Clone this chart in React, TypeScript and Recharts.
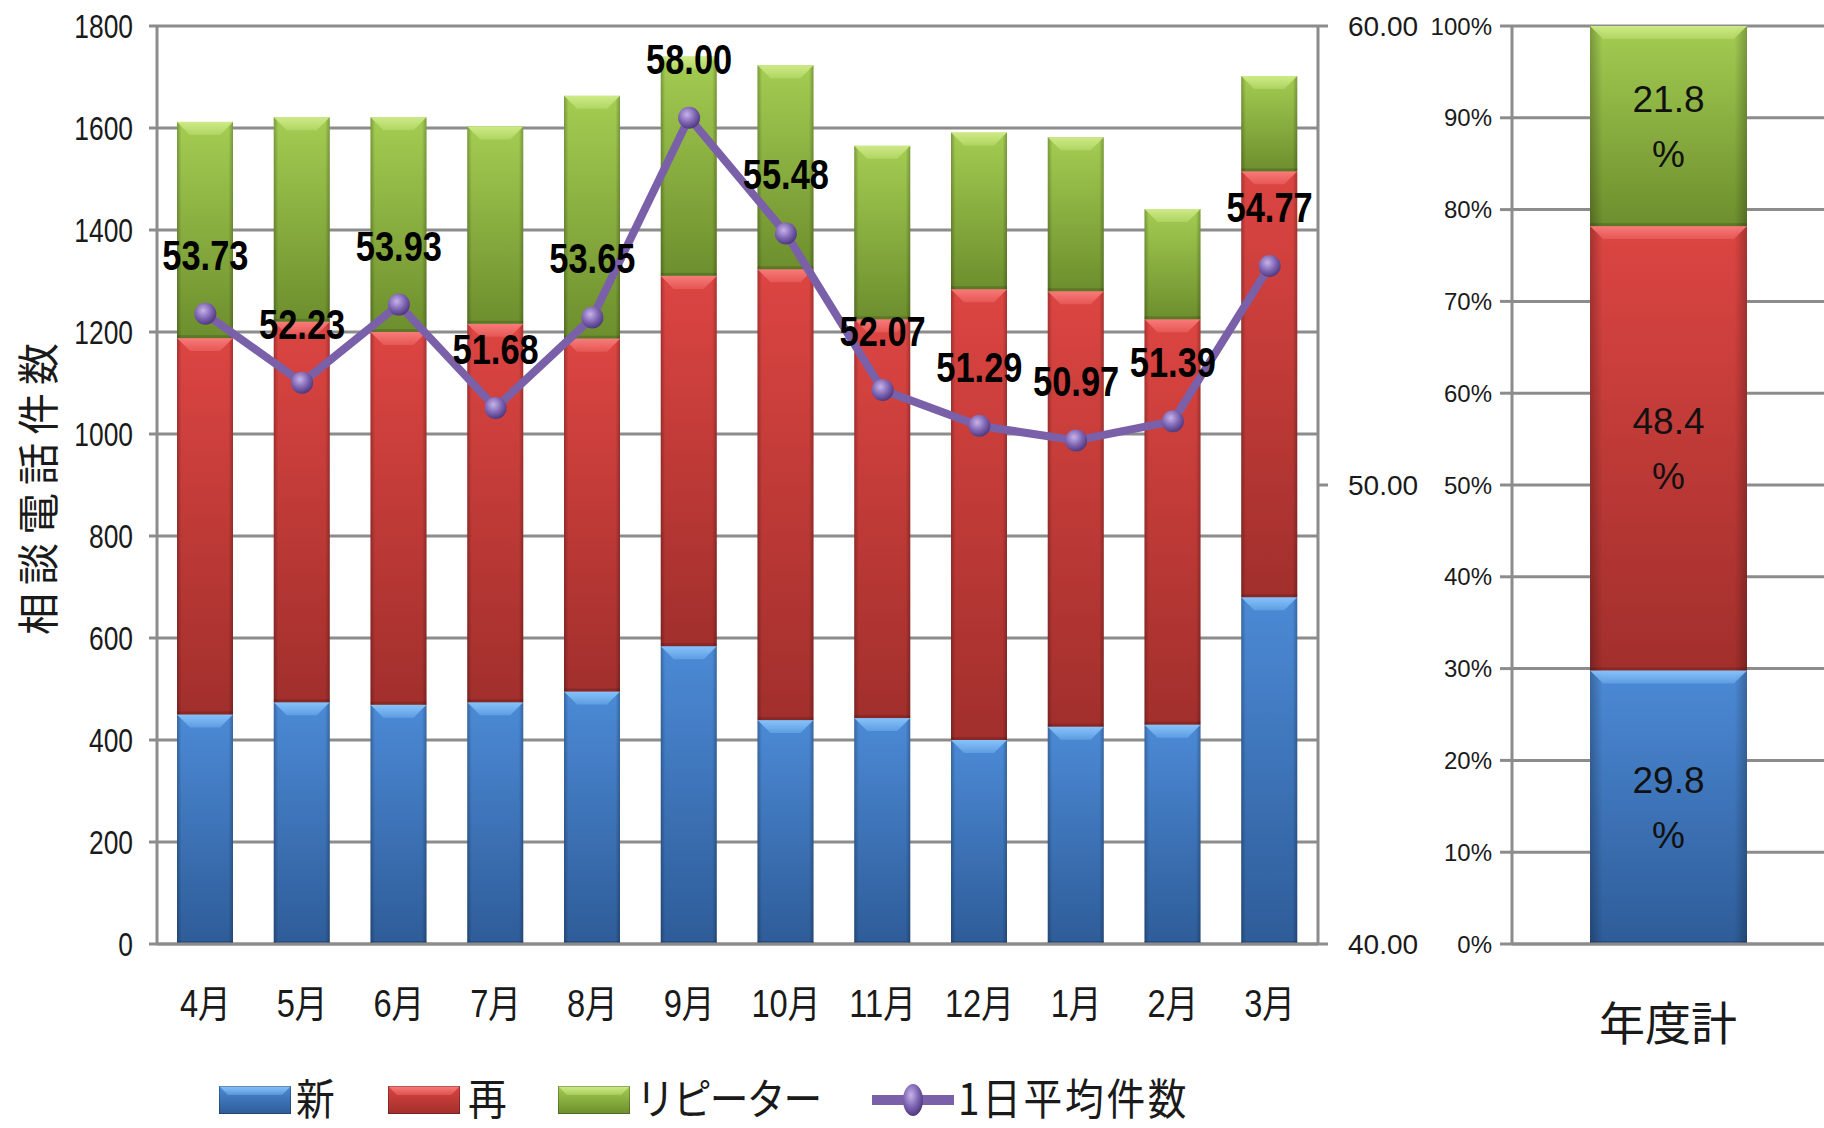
import React from 'react';
import { ComposedChart, Bar, Line, XAxis, YAxis, CartesianGrid, LabelList } from 'recharts';

const months = ['4月', '5月', '6月', '7月', '8月', '9月', '10月', '11月', '12月', '1月', '2月', '3月'];
const newCalls = [450, 474, 469, 474, 495, 584, 439, 443, 400, 426, 430, 680];
const againCalls = [738, 746, 731, 742, 692, 726, 884, 782, 884, 854, 795, 835];
const repeaterCalls = [424, 401, 421, 387, 476, 430, 400, 340, 307, 302, 216, 187];
const dailyAvg = [53.73, 52.23, 53.93, 51.68, 53.65, 58.0, 55.48, 52.07, 51.29, 50.97, 51.39, 54.77];
const leftTicks = [0, 200, 400, 600, 800, 1000, 1200, 1400, 1600, 1800];
const rightTicks = [40, 50, 60];
const annualCategory = ['年度計'];
const annualShares = [29.8, 48.4, 21.8];
const pctTicks = [0, 10, 20, 30, 40, 50, 60, 70, 80, 90, 100];
const seriesNames = ['新', '再', 'リピーター', '1日平均件数'];

const monthData = months.map((m, i) => ({
  month: m,
  new: newCalls[i],
  again: againCalls[i],
  repeater: repeaterCalls[i],
  avg: dailyAvg[i],
}));
const annualData = annualCategory.map((c) => ({
  name: c,
  new: annualShares[0],
  again: annualShares[1],
  repeater: annualShares[2],
}));

const GRID = '#8c8c8c';
const SANS = '"Liberation Sans", "Noto Sans CJK JP", sans-serif';
const CJK = '"Noto Sans CJK JP", "Liberation Sans", sans-serif';

const palette: Record<string, { top: string; bottom: string; bevel: string }> = {
  blue: { top: '#4c8ad6', bottom: '#2e5c98', bevel: '#86c3fb' },
  red: { top: '#dc4542', bottom: '#a12f2c', bevel: '#f87b79' },
  green: { top: '#a4cd52', bottom: '#6d8e2d', bevel: '#cdea86' },
};

const makeShape = (key: string) => (props: any) => {
  const { x, y, width, height } = props;
  if (!height || height <= 0) return <g />;
  const b = Math.min(13, height / 2);
  return (
    <g>
      <rect x={x} y={y} width={width} height={height} fill={`url(#g-${key})`} />
      <rect x={x} y={y} width={width} height={height} fill="url(#g-side)" />
      <polygon
        points={`${x},${y} ${x + width},${y} ${x + width - b},${y + b} ${x + b},${y + b}`}
        fill={`url(#g-bevel-${key})`}
      />
      <rect x={x} y={y + height - 3} width={width} height={3} fill="rgba(0,0,0,0.15)" />
    </g>
  );
};

const Defs = () => (
  <svg width={0} height={0} style={{ position: 'absolute' }}>
    <defs>
      {Object.keys(palette).map((k) => (
        <React.Fragment key={k}>
          <linearGradient id={`g-${k}`} x1="0" y1="0" x2="0" y2="1">
            <stop offset="0%" stopColor={palette[k].top} />
            <stop offset="100%" stopColor={palette[k].bottom} />
          </linearGradient>
          <linearGradient id={`g-bevel-${k}`} x1="0" y1="0" x2="0" y2="1">
            <stop offset="0%" stopColor={palette[k].bevel} stopOpacity={1} />
            <stop offset="100%" stopColor={palette[k].bevel} stopOpacity={0.35} />
          </linearGradient>
        </React.Fragment>
      ))}
      <linearGradient id="g-side" x1="0" y1="0" x2="1" y2="0">
        <stop offset="0%" stopColor="#000" stopOpacity={0.25} />
        <stop offset="8%" stopColor="#000" stopOpacity={0} />
        <stop offset="92%" stopColor="#000" stopOpacity={0} />
        <stop offset="100%" stopColor="#000" stopOpacity={0.25} />
      </linearGradient>
      <radialGradient id="g-dot" cx="0.4" cy="0.35" r="0.65">
        <stop offset="0%" stopColor="#c7b3ea" />
        <stop offset="60%" stopColor="#7c62b0" />
        <stop offset="100%" stopColor="#4f3a80" />
      </radialGradient>
    </defs>
  </svg>
);

const AvgDot = (props: any) => {
  const { cx, cy, index } = props;
  return <circle key={`dot-${index}`} cx={cx} cy={cy} r={11} fill="url(#g-dot)" />;
};

const AvgLabel = (props: any) => {
  const { x, y, value } = props;
  return (
    <text
      transform={`translate(${x} ${y - 44}) scale(0.8 1)`}
      textAnchor="middle"
      fontFamily={SANS}
      fontWeight="bold"
      fontSize={43}
      fill="#000"
    >
      {Number(value).toFixed(2)}
    </text>
  );
};

const LeftTick = (props: any) => {
  const { x, y, payload } = props;
  return (
    <text
      transform={`translate(${x} ${y}) scale(0.8 1)`}
      textAnchor="end"
      dominantBaseline="central"
      fontFamily={SANS}
      fontSize={33}
      fill="#1a1a1a"
    >
      {payload.value}
    </text>
  );
};

const MonthTick = (props: any) => {
  const { x, y, payload } = props;
  return (
    <text
      transform={`translate(${x} ${y + 60}) scale(0.86 1)`}
      textAnchor="middle"
      dominantBaseline="central"
      fontFamily={SANS}
      fontSize={38}
      fill="#1a1a1a"
    >
      {payload.value}
    </text>
  );
};

const ShareLabel = (props: any) => {
  const { x, y, width, height, value } = props;
  const cx = x + width / 2;
  const cy = y + height / 2;
  return (
    <g>
      <text x={cx} y={cy - 14} textAnchor="middle" fontFamily={SANS} fontSize={37} fill="#111">
        {Number(value).toFixed(1)}
      </text>
      <text x={cx} y={cy + 41} textAnchor="middle" fontFamily={SANS} fontSize={37} fill="#111">
        %
      </text>
    </g>
  );
};

const LegendSwatch = ({ k }: { k: string }) => (
  <svg width={72} height={28} style={{ display: 'block' }}>
    <rect x={0} y={0} width={72} height={28} fill={`url(#g-${k})`} />
    <polygon points="0,0 72,0 63,9 9,9" fill={`url(#g-bevel-${k})`} />
    <rect x={0} y={0} width={72} height={28} fill="none" stroke="rgba(0,0,0,0.35)" strokeWidth={1.5} />
  </svg>
);

const legendText: React.CSSProperties = {
  position: 'absolute',
  top: 13,
  lineHeight: '46px',
  height: 46,
  whiteSpace: 'nowrap',
  transformOrigin: 'left center',
  transform: 'scaleX(0.9)',
};

export default function App() {
  return (
    <div
      style={{
        position: 'absolute',
        left: 0,
        top: 0,
        width: 1824,
        height: 1128,
        overflow: 'hidden',
        background: '#fff',
      }}
    >
      <Defs />
      {/* Y axis title */}
      <div
        style={{
          position: 'absolute',
          left: 36,
          top: 485,
          transform: 'translate(-50%, -50%) rotate(-90deg)',
          fontFamily: CJK,
          fontSize: 42,
          letterSpacing: 8,
          whiteSpace: 'nowrap',
          color: '#1a1a1a',
          lineHeight: 1.2,
        }}
      >
        相談電話件数
      </div>

      <div style={{ position: 'absolute', left: 0, top: 0 }}>
        <ComposedChart
          width={1430}
          height={1128}
          data={monthData}
          margin={{ top: 26, right: 0, bottom: 114, left: 0 }}
          barCategoryGap={0}
        >
          <CartesianGrid yAxisId="l" vertical={false} stroke={GRID} strokeWidth={3} />
          <XAxis
            dataKey="month"
            height={70}
            tickLine={false}
            tickSize={0}
            tickMargin={0}
            axisLine={{ stroke: GRID, strokeWidth: 3 }}
            tick={MonthTick}
            interval={0}
          />
          <YAxis
            yAxisId="l"
            width={157}
            domain={[0, 1800]}
            ticks={leftTicks}
            tickSize={8}
            tickMargin={16}
            tickLine={{ stroke: GRID, strokeWidth: 3 }}
            axisLine={{ stroke: GRID, strokeWidth: 3 }}
            tick={LeftTick}
            interval={0}
          />
          <YAxis
            yAxisId="r"
            orientation="right"
            width={112}
            domain={[40, 60]}
            ticks={rightTicks}
            tickSize={10}
            tickMargin={20}
            tickFormatter={(v: number) => v.toFixed(2)}
            tickLine={{ stroke: GRID, strokeWidth: 3 }}
            axisLine={{ stroke: GRID, strokeWidth: 3 }}
            tick={{ fontFamily: SANS, fontSize: 28, fill: '#1a1a1a', textAnchor: 'start' }}
            interval={0}
          />
          <Bar yAxisId="l" dataKey="new" name={seriesNames[0]} stackId="a" barSize={56} fill="#3e78c0" shape={makeShape('blue')} isAnimationActive={false} />
          <Bar yAxisId="l" dataKey="again" name={seriesNames[1]} stackId="a" barSize={56} fill="#c63d3a" shape={makeShape('red')} isAnimationActive={false} />
          <Bar yAxisId="l" dataKey="repeater" name={seriesNames[2]} stackId="a" barSize={56} fill="#8ab443" shape={makeShape('green')} isAnimationActive={false} />
          <Line
            yAxisId="r"
            dataKey="avg"
            name={seriesNames[3]}
            stroke="#7a60a8"
            strokeWidth={8}
            dot={AvgDot}
            activeDot={false}
            isAnimationActive={false}
          >
            <LabelList dataKey="avg" content={AvgLabel} />
          </Line>
        </ComposedChart>
      </div>

      <div style={{ position: 'absolute', left: 1420, top: 0 }}>
        <ComposedChart
          width={404}
          height={1128}
          data={annualData}
          margin={{ top: 26, right: 0, bottom: 94, left: 0 }}
        >
          <CartesianGrid vertical={false} stroke={GRID} strokeWidth={3} />
          <XAxis
            dataKey="name"
            height={90}
            tickLine={false}
            tickSize={0}
            tickMargin={63}
            axisLine={{ stroke: GRID, strokeWidth: 3 }}
            tick={{ fontFamily: CJK, fontSize: 46, fill: '#1a1a1a' }}
          />
          <YAxis
            width={92}
            domain={[0, 100]}
            ticks={pctTicks}
            tickSize={12}
            tickMargin={8}
            tickFormatter={(v: number) => `${v}%`}
            tickLine={{ stroke: GRID, strokeWidth: 3 }}
            axisLine={{ stroke: GRID, strokeWidth: 3 }}
            tick={{ fontFamily: SANS, fontSize: 24, fill: '#1a1a1a' }}
            interval={0}
          />
          <Bar dataKey="new" name={seriesNames[0]} stackId="p" barSize={157} fill="#3e78c0" shape={makeShape('blue')} isAnimationActive={false}>
            <LabelList dataKey="new" content={ShareLabel} />
          </Bar>
          <Bar dataKey="again" name={seriesNames[1]} stackId="p" barSize={157} fill="#c63d3a" shape={makeShape('red')} isAnimationActive={false}>
            <LabelList dataKey="again" content={ShareLabel} />
          </Bar>
          <Bar dataKey="repeater" name={seriesNames[2]} stackId="p" barSize={157} fill="#8ab443" shape={makeShape('green')} isAnimationActive={false}>
            <LabelList dataKey="repeater" content={ShareLabel} />
          </Bar>
        </ComposedChart>
      </div>

      {/* Legend */}
      <div style={{ position: 'absolute', left: 0, top: 1060, width: 1300, height: 68, fontFamily: CJK, fontSize: 43, color: '#1a1a1a' }}>
        <div style={{ position: 'absolute', left: 219, top: 26 }}><LegendSwatch k="blue" /></div>
        <div style={{ ...legendText, left: 296 }}>{seriesNames[0]}</div>
        <div style={{ position: 'absolute', left: 388, top: 26 }}><LegendSwatch k="red" /></div>
        <div style={{ ...legendText, left: 468 }}>{seriesNames[1]}</div>
        <div style={{ position: 'absolute', left: 558, top: 26 }}><LegendSwatch k="green" /></div>
        <div style={{ ...legendText, left: 636, letterSpacing: -2 }}>{seriesNames[2]}</div>
        <div style={{ position: 'absolute', left: 872, top: 20 }}>
          <svg width={82} height={40} style={{ display: 'block' }}>
            <line x1={0} y1={20} x2={82} y2={20} stroke="#7a60a8" strokeWidth={10} />
            <ellipse cx={41} cy={20} rx={10} ry={16} fill="url(#g-dot)" />
          </svg>
        </div>
        <div style={{ ...legendText, left: 958, letterSpacing: 3 }}>{seriesNames[3]}</div>
      </div>
    </div>
  );
}
